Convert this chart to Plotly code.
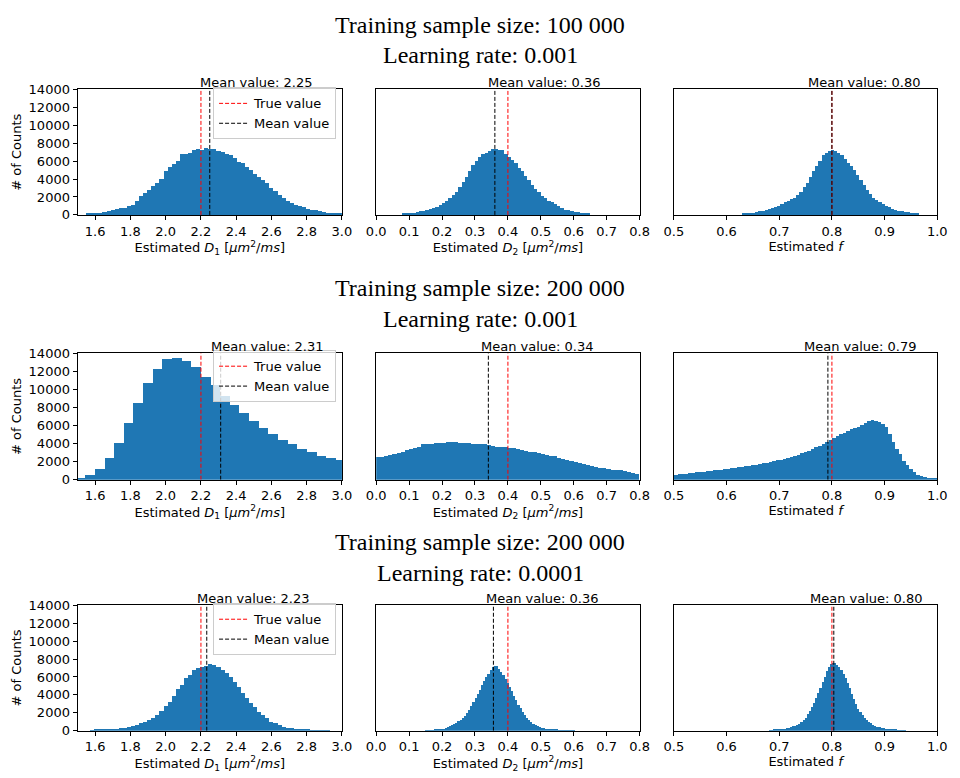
import plotly.graph_objects as go

# ---------------- data ----------------
row_title_size = ["Training sample size: 100 000",
                  "Training sample size: 200 000",
                  "Training sample size: 200 000"]
row_title_lr = ["Learning rate: 0.001", "Learning rate: 0.001", "Learning rate: 0.0001"]

true_values = [2.2, 0.4, 0.8]
mean_values = [[2.25, 0.3604, 0.80],
               [2.312, 0.3406, 0.7924],
               [2.233, 0.356, 0.8036]]

x_titles = ["Estimated <i>D</i><sub>1</sub> [<i>μm</i><sup>2</sup>/<i>ms</i>]",
            "Estimated <i>D</i><sub>2</sub> [<i>μm</i><sup>2</sup>/<i>ms</i>]",
            "Estimated <i>f</i>"]
y_title = "# of Counts"

x_ranges = [[1.5, 3.0], [0.0, 0.8], [0.5, 1.0]]
x_tickvals = [[1.6, 1.8, 2.0, 2.2, 2.4, 2.6, 2.8, 3.0],
              [0.0, 0.1, 0.2, 0.3, 0.4, 0.5, 0.6, 0.7, 0.8],
              [0.5, 0.6, 0.7, 0.8, 0.9, 1.0]]
x_ticktext = [["1.6", "1.8", "2.0", "2.2", "2.4", "2.6", "2.8", "3.0"],
              ["0.0", "0.1", "0.2", "0.3", "0.4", "0.5", "0.6", "0.7", "0.8"],
              ["0.5", "0.6", "0.7", "0.8", "0.9", "1.0"]]
y_tickvals = [0, 2000, 4000, 6000, 8000, 10000, 12000, 14000]
y_ticktext = ["0", "2000", "4000", "6000", "8000", "10000", "12000", "14000"]
y_range = [0, 14000]

# histogram bins: first edge and width per panel
bin_start = [[1.5, 0.08, 0.63], [1.4863, 0.0, 0.5], [1.5, 0.15, 0.68]]
bin_width = [[0.0231, 0.01, 0.006], [0.0547, 0.0125, 0.006667], [0.0231, 0.0065, 0.004]]

counts_r1_d1 = [0, 0, 80, 120, 160, 220, 280, 380, 500, 600,
                700, 780, 1000, 1050, 1500, 2100, 2400, 2750, 3200, 3550,
                4000, 4800, 5300, 5600, 6000, 6750, 6800, 6900, 7200, 7300,
                7200, 7450, 7300, 7350, 7100, 7000, 6800, 6650, 6300, 5900,
                5800, 5350, 5000, 4550, 4200, 3850, 3550, 3000, 2650, 2200,
                1800, 1550, 1250, 1100, 900, 800, 650, 550, 470, 350,
                280, 220, 170, 150, 130]
counts_r1_d2 = [60, 120, 170, 220, 270, 350, 420, 520, 620, 730,
                850, 1050, 1300, 1550, 1850, 2150, 2550, 3100, 3600, 4200,
                4800, 5500, 6000, 6400, 6750, 6900, 7100, 7300, 7350, 7250,
                7150, 6800, 6400, 6100, 5700, 5200, 4800, 4300, 3800, 3300,
                2900, 2500, 2100, 1800, 1550, 1350, 1150, 900, 720, 550,
                470, 380, 320, 260, 200, 130, 60]
counts_r1_f = [80, 130, 170, 210, 280, 350, 420, 520, 600, 700,
               820, 980, 1150, 1350, 1550, 1700, 1900, 2150, 2500, 3050,
               3550, 4200, 4800, 5400, 6000, 6600, 6900, 7100, 7200, 7100,
               6900, 6600, 6200, 5800, 5400, 5000, 4400, 3800, 3300, 2700,
               2300, 1900, 1600, 1350, 1150, 950, 800, 670, 550, 430,
               340, 300, 240, 180, 150, 100]

counts_r2_d1 = [150, 500, 1150, 2350, 4050, 6300, 8450, 10700, 12250, 13380,
                13500, 13150, 12400, 11400, 10450, 9200, 8250, 7400, 6500, 5700,
                5050, 4330, 3900, 3400, 3000, 2600, 2350, 2150]
counts_r2_d2 = [2450, 2500, 2600, 2700, 2800, 2950, 3100, 3250, 3400, 3500,
                3600, 3950, 3900, 3950, 4000, 4050, 4050, 4100, 4100, 4100,
                4050, 4050, 4000, 3950, 3950, 3900, 3900, 3800, 3750, 3650,
                3600, 3550, 3500, 3450, 3400, 3300, 3200, 3100, 3000, 2900,
                2850, 2750, 2650, 2550, 2400, 2300, 2150, 2050, 1950, 1800,
                1700, 1600, 1500, 1400, 1300, 1250, 1150, 1100, 1050, 1000,
                900, 850, 700, 650]
counts_r2_f = [550, 600, 620, 650, 700, 740, 780, 830, 880, 920,
               970, 1020, 1070, 1100, 1150, 1180, 1250, 1300, 1360, 1420,
               1480, 1520, 1580, 1650, 1720, 1800, 1870, 1950, 2030, 2120,
               2200, 2300, 2400, 2500, 2650, 2750, 2900, 3050, 3200, 3400,
               3550, 3750, 3950, 4150, 4400, 4600, 4850, 5050, 5200, 5400,
               5550, 5700, 5800, 6000, 6200, 6450, 6600, 6500, 6400, 6100,
               5800, 5000, 4200, 3400, 2800, 2100, 1600, 1150, 800, 550,
               400, 250, 170, 100, 60]

counts_r3_d1 = [0, 0, 0, 30, 60, 80, 100, 120, 170, 220,
                270, 330, 430, 530, 650, 800, 950, 1150, 1450, 1750,
                2150, 2700, 3200, 3900, 4600, 5100, 5900, 6150, 6700, 7000,
                7100, 7250, 7400, 7300, 7100, 6800, 6450, 6000, 5400, 4800,
                4200, 3600, 3100, 2600, 2100, 1700, 1350, 1000, 800, 600,
                450, 330, 250, 180, 140, 100, 70, 50, 30, 20,
                15, 10, 0, 0, 0]
counts_r3_d2 = [20, 30, 40, 50, 60, 90, 120, 170, 220, 290,
                380, 480, 600, 740, 880, 1050, 1200, 1400, 1650, 1950,
                2300, 2700, 3150, 3600, 4050, 4550, 5050, 5500, 5950, 6350,
                6800, 7050, 7250, 7150, 6900, 6550, 6200, 5800, 5350, 4850,
                4400, 3800, 3350, 2900, 2500, 2100, 1750, 1450, 1200, 950,
                780, 620, 500, 400, 320, 260, 210, 170, 140, 110,
                90, 70, 50, 40, 30, 20, 15, 10, 10, 5]
counts_r3_f = [40, 50, 70, 90, 120, 150, 180, 220, 270, 330,
               400, 480, 560, 640, 750, 900, 1150, 1450, 1800, 2200,
               2650, 3100, 3600, 4150, 4750, 5400, 6000, 6600, 7050, 7400,
               7550, 7500, 7350, 7100, 6800, 6350, 5900, 5300, 4700, 4100,
               3500, 2950, 2450, 2050, 1700, 1400, 1150, 950, 800, 650,
               530, 430, 350, 290, 240, 200, 160, 130, 110, 90,
               70, 50, 40, 30, 20]

counts = [[counts_r1_d1, counts_r1_d2, counts_r1_f],
          [counts_r2_d1, counts_r2_d2, counts_r2_f],
          [counts_r3_d1, counts_r3_d2, counts_r3_f]]

# ---------------- layout geometry (pixels) ----------------
W, H = 960, 778
col_px = [(69, 339), (374, 643), (678, 947)]
row_px = [(84, 212), (353, 482), (610, 738)]
title_px = [(18, 49), (287, 318), (546, 577)]
legend_top_px = [82, 350, 608]
legend_right_px = 333
mean_text_shift = [-12, -9, -26]   # px offset of the "Mean value" label start from its line

BAR = "#1f77b4"
FONT = "DejaVu Sans"
FS = 13

fig = go.Figure()
layout = dict(width=W, height=H, margin=dict(l=0, r=0, t=0, b=0),
              paper_bgcolor="white", plot_bgcolor="white",
              bargap=0, showlegend=True,
              font=dict(family=FONT, size=FS, color="black"))
annotations = []
legend_names = ["legend", "legend2", "legend3"]

for r in range(3):
    for c in range(3):
        k = r * 3 + c + 1
        xa = "x" if k == 1 else f"x{k}"
        ya = "y" if k == 1 else f"y{k}"
        vals = counts[r][c]
        s, w = bin_start[r][c], bin_width[r][c]
        centers = [s + (i + 0.5) * w for i in range(len(vals))]
        fig.add_trace(go.Bar(x=centers, y=vals, width=w, marker=dict(color=BAR, line=dict(width=0)),
                             xaxis=xa, yaxis=ya, showlegend=False, hoverinfo="skip"))
        tv = true_values[c]
        mv = mean_values[r][c]
        fig.add_trace(go.Scatter(x=[tv, tv], y=y_range, mode="lines", name="True value",
                                 line=dict(color="red", width=1, dash="4px,2px"),
                                 xaxis=xa, yaxis=ya, showlegend=(c == 0),
                                 legend=legend_names[r]))
        fig.add_trace(go.Scatter(x=[mv, mv], y=y_range, mode="lines", name="Mean value",
                                 line=dict(color="black", width=1, dash="4px,2px"),
                                 xaxis=xa, yaxis=ya, showlegend=(c == 0),
                                 legend=legend_names[r]))
        annotations.append(dict(text=f"Mean value: {mv:.2f}", x=mv, y=1, xref=xa, yref=f"{ya} domain",
                                xanchor="left", yanchor="bottom", showarrow=False,
                                xshift=mean_text_shift[c], yshift=-3,
                                font=dict(family=FONT, size=FS, color="black")))

        x0, x1 = col_px[c]
        y0, y1 = row_px[r]
        xkey = "xaxis" if k == 1 else f"xaxis{k}"
        ykey = "yaxis" if k == 1 else f"yaxis{k}"
        layout[xkey] = dict(domain=[x0 / W, x1 / W], anchor=ya, range=x_ranges[c],
                            tickvals=x_tickvals[c], ticktext=x_ticktext[c],
                            showline=True, linecolor="black", linewidth=1, mirror=True,
                            ticks="outside", ticklen=4, tickwidth=1, tickcolor="black",
                            showgrid=False, zeroline=False,
                            tickfont=dict(family=FONT, size=FS, color="black"),
                            title=dict(text=x_titles[c], standoff=2,
                                       font=dict(family=FONT, size=FS, color="black")))
        ydict = dict(domain=[1 - y1 / H, 1 - y0 / H], anchor=xa, range=y_range,
                     showline=True, linecolor="black", linewidth=1, mirror=True,
                     showgrid=False, zeroline=False)
        if c == 0:
            ydict.update(tickvals=y_tickvals, ticktext=y_ticktext, ticks="outside", ticklen=4,
                         tickwidth=1, tickcolor="black",
                         tickfont=dict(family=FONT, size=FS, color="black"),
                         title=dict(text=y_title, standoff=4,
                                    font=dict(family=FONT, size=FS, color="black")))
        else:
            ydict.update(showticklabels=False, ticks="")
        layout[ykey] = ydict

    layout[legend_names[r]] = dict(x=legend_right_px / W, xanchor="right",
                                   y=1 - legend_top_px[r] / H, yanchor="top",
                                   bgcolor="rgba(255,255,255,0.8)", bordercolor="#cccccc",
                                   borderwidth=1, font=dict(family=FONT, size=FS, color="black"))
    t1, t2 = title_px[r]
    annotations.append(dict(text=row_title_size[r], x=0.5, y=1 - t1 / H, xref="paper", yref="paper",
                            xanchor="center", yanchor="middle", showarrow=False,
                            font=dict(family="Liberation Serif", size=24, color="black")))
    annotations.append(dict(text=row_title_lr[r], x=0.5, y=1 - t2 / H, xref="paper", yref="paper",
                            xanchor="center", yanchor="middle", showarrow=False,
                            font=dict(family="Liberation Serif", size=24, color="black")))

layout["annotations"] = annotations
fig.update_layout(**layout)
fig.write_html("out.html")
